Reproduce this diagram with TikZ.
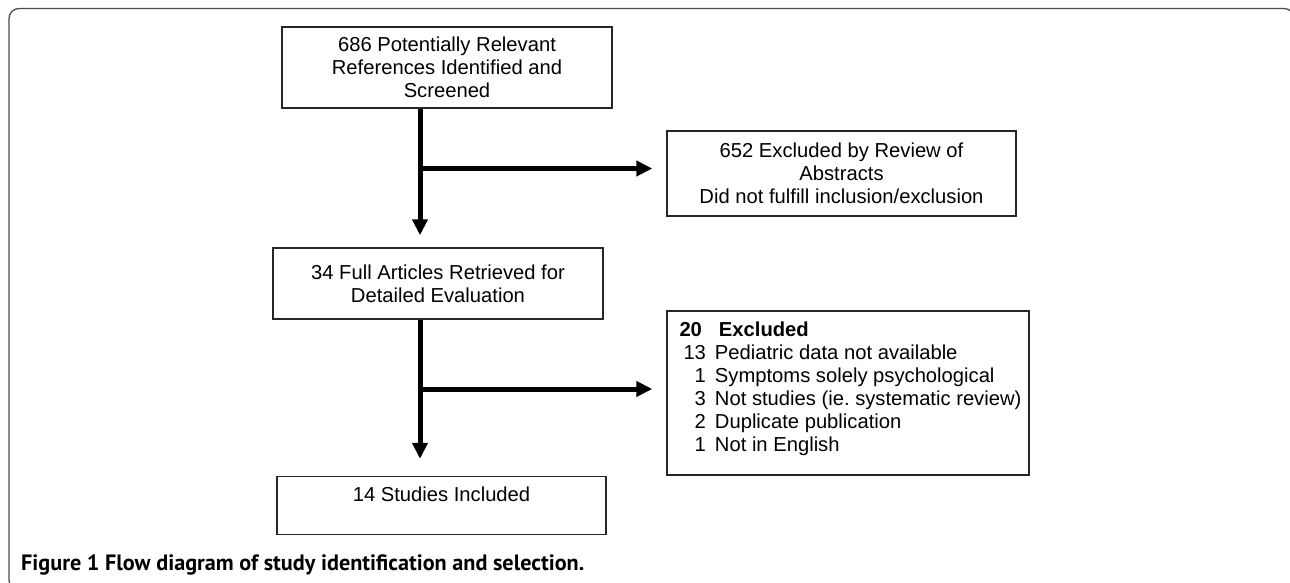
\documentclass[tikz,border=0pt]{standalone}
\usepackage{fontspec}
\setmainfont{Liberation Sans}
\newfontfamily\capfont{PT Sans}
\usetikzlibrary{arrows.meta}
\tikzset{
  boxnode/.style={draw=black!85, line width=1.4pt, rectangle, inner sep=0pt,
    align=center, font=\fontsize{20.2}{23}\selectfont},
  txtnode/.style={inner sep=0pt, align=left, font=\fontsize{20.2}{23}\selectfont},
  arr/.style={line width=5pt, -{Triangle[width=15pt,length=16pt]}},
  framebox/.style={draw=black!70, line width=1.3pt, rounded corners=10pt},
}
\begin{document}
\begin{tikzpicture}[x=1pt,y=-1pt]
\useasboundingbox (0,0) rectangle (1290,583);
\fill[white] (0,0) rectangle (1290,583);
\draw[framebox] (9,8.5) rectangle (1294,590);

\node[boxnode, minimum width=330pt, minimum height=81pt] (box1) at (447,67.5)
  {686 Potentially Relevant\\References Identified and\\Screened};
\node[boxnode, minimum width=349pt, minimum height=85pt] (box2) at (841.5,173.5)
  {652 Excluded by Review of\\Abstracts\\Did not fulfill inclusion/exclusion};
\node[boxnode, minimum width=330pt, minimum height=71pt] (box3) at (438,283.5)
  {34 Full Articles Retrieved for\\Detailed Evaluation};
\node[boxnode, minimum width=362pt, minimum height=164pt] (box4) at (848,393) {};
\node[txtnode, anchor=west] (box4txt) at ([xshift=13pt,yshift=4pt]box4.west)
  {\begin{tabular}{@{}r@{\hspace{9pt}}l@{}}
   \multicolumn{2}{@{}l@{}}{\bfseries 20\hspace{17pt}Excluded}\\
   \hspace{4pt}13 & Pediatric data not available\\
   1 & Symptoms solely psychological\\
   3 & Not studies (ie.\ systematic review)\\
   2 & Duplicate publication\\
   1 & Not in English
   \end{tabular}};
\node[boxnode, minimum width=329pt, minimum height=58pt] (box5) at (441.5,505.5)
  {14 Studies Included\\\mbox{}};

\coordinate (spine) at (420,0);
\draw[arr, shorten >=12pt] (box1.south -| spine) -- (box3.north -| spine);
\draw[arr, shorten >=14pt] ([yshift=5pt]box2.west -| spine) -- ([yshift=5pt]box2.west);
\draw[arr, shorten >=17pt] (box3.south -| spine) -- (box5.north -| spine);
\draw[arr, shorten >=14pt] ([yshift=4pt]box4.west -| spine) -- ([yshift=4pt]box4.west);

\node[anchor=base west, inner sep=0pt, font=\fontsize{22.2}{25}\selectfont\capfont\bfseries] (cap) at (21,570)
  {Figure 1 Flow diagram of study identification and selection.};
\end{tikzpicture}
\end{document}
